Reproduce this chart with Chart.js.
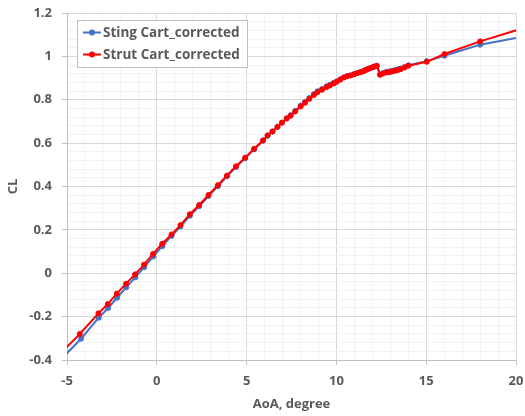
<!DOCTYPE html>
<html>
<head>
<meta charset="utf-8">
<title>CL vs AoA</title>
<script src="https://cdn.jsdelivr.net/npm/chart.js@4"></script>
<style>
  html, body { margin: 0; padding: 0; background: #fff; }
  #wrap { width: 525px; height: 416px; }
</style>
</head>
<body>
<div id="wrap"><canvas id="grafico" width="525" height="416"></canvas></div>
<script>
// Dados (AoA em graus, CL)
const aoaSting = [-5.3, -4.22, -3.23, -2.71, -2.21, -1.70, -1.20, -0.70, -0.20, 0.31, 0.82, 1.32, 1.84, 2.36, 2.88, 3.40,
  3.91, 4.41, 4.92, 5.42, 5.92, 6.17, 6.44, 6.72, 6.97, 7.23, 7.45, 7.71, 8.01, 8.25, 8.49, 8.75, 8.95, 9.20, 9.45,
  9.64, 9.85, 10.02, 10.22, 10.42, 10.60, 10.80, 11.00, 11.17, 11.32, 11.47, 11.60, 11.73, 11.87, 12.02, 12.12, 12.25,
  12.43, 12.60, 12.77, 12.90, 13.04, 13.18, 13.32, 13.45, 13.58, 13.80, 14.01, 15.03, 16.02, 18.00, 22.0];
const clSting = [-0.395, -0.302, -0.205, -0.160, -0.113, -0.065, -0.019, 0.028, 0.077, 0.125, 0.172, 0.215, 0.265,
  0.309, 0.356, 0.401, 0.447, 0.490, 0.530, 0.571, 0.611, 0.634, 0.653, 0.675, 0.695, 0.715, 0.729, 0.749, 0.773,
  0.790, 0.808, 0.826, 0.839, 0.850, 0.862, 0.869, 0.878, 0.885, 0.895, 0.903, 0.909, 0.913, 0.919, 0.923, 0.927,
  0.931, 0.936, 0.941, 0.945, 0.950, 0.953, 0.956, 0.917, 0.923, 0.928, 0.930, 0.932, 0.935, 0.938, 0.941, 0.944,
  0.951, 0.959, 0.978, 1.003, 1.054, 1.116];

const aoaStrut = [-5.3, -4.29, -3.25, -2.73, -2.23, -1.71, -1.21, -0.71, -0.21, 0.30, 0.82, 1.32, 1.84, 2.36, 2.88, 3.40,
  3.91, 4.41, 4.92, 5.42, 5.92, 6.17, 6.44, 6.72, 6.97, 7.23, 7.45, 7.71, 8.01, 8.25, 8.49, 8.75, 8.95, 9.20, 9.45,
  9.64, 9.85, 10.02, 10.22, 10.42, 10.60, 10.80, 11.00, 11.17, 11.32, 11.47, 11.60, 11.73, 11.87, 12.02, 12.12, 12.25,
  12.43, 12.60, 12.77, 12.90, 13.04, 13.18, 13.32, 13.45, 13.58, 13.80, 14.01, 15.03, 16.02, 18.00, 22.0];
const clStrut = [-0.365, -0.280, -0.185, -0.142, -0.094, -0.048, -0.005, 0.040, 0.089, 0.136, 0.179, 0.222, 0.272,
  0.315, 0.361, 0.406, 0.451, 0.493, 0.533, 0.574, 0.613, 0.636, 0.654, 0.675, 0.694, 0.713, 0.726, 0.746, 0.769,
  0.786, 0.804, 0.822, 0.835, 0.846, 0.858, 0.866, 0.875, 0.883, 0.893, 0.903, 0.908, 0.912, 0.918, 0.923, 0.927,
  0.930, 0.936, 0.941, 0.945, 0.950, 0.953, 0.957, 0.915, 0.921, 0.926, 0.927, 0.929, 0.932, 0.935, 0.938, 0.941,
  0.949, 0.957, 0.975, 1.011, 1.069, 1.171];

const nomesSeries = ["Sting Cart_corrected", "Strut Cart_corrected"];
const coresSeries = ["#4472C4", "#FF0000"];

// escalas: passo principal e secundário (estilo Excel)
const xMin = -5, xMax = 20, xMajor = 5, xMinor = 1;
const yMin = -0.4, yMax = 1.2, yMajor = 0.2, yMinor = 0.04;

const corTexto = "#595959";
const fonte = "'Open Sans', 'DejaVu Sans', sans-serif";
const fonteTam = 13;

function pontos(xs, ys) {
    return xs.map((x, i) => ({ x: x, y: ys[i] }));
}

function ehPrincipal(v, passo) {
    const r = Math.round(v / passo);
    return Math.abs(v - r * passo) < 1e-6;
}

// Legenda com caixa dentro da área do gráfico
const legendaCaixa = {
    id: "legendaCaixa",
    afterDraw(chart) {
        const ctx = chart.ctx;
        ctx.save();
        ctx.fillStyle = "#fff";
        ctx.strokeStyle = "#bfbfbf";
        ctx.lineWidth = 1;
        ctx.fillRect(77.5, 20.5, 170, 47);
        ctx.strokeRect(77.5, 20.5, 170, 47);
        ctx.font = "bold 13.5px " + fonte;
        ctx.textBaseline = "middle";
        nomesSeries.forEach((nome, i) => {
            const y = 32.5 + i * 22;
            ctx.strokeStyle = coresSeries[i];
            ctx.lineWidth = 2;
            ctx.beginPath();
            ctx.moveTo(83, y);
            ctx.lineTo(101, y);
            ctx.stroke();
            ctx.fillStyle = coresSeries[i];
            ctx.beginPath();
            ctx.arc(92, y, 3, 0, Math.PI * 2);
            ctx.fill();
            ctx.fillStyle = corTexto;
            ctx.fillText(nome, 103, y + 0.5);
        });
        ctx.restore();
    }
};

const ctx = document.getElementById("grafico").getContext("2d");

new Chart(ctx, {
    type: "scatter",
    data: {
        datasets: [
            {
                label: nomesSeries[0],
                data: pontos(aoaSting, clSting),
                showLine: true,
                borderColor: coresSeries[0],
                backgroundColor: coresSeries[0],
                borderWidth: 2,
                pointRadius: 2.5,
                pointBorderWidth: 1,
                tension: 0,
                order: 2
            },
            {
                label: nomesSeries[1],
                data: pontos(aoaStrut, clStrut),
                showLine: true,
                borderColor: coresSeries[1],
                backgroundColor: coresSeries[1],
                borderWidth: 2,
                pointRadius: 2.5,
                pointBorderWidth: 1,
                tension: 0,
                order: 1
            }
        ]
    },
    options: {
        responsive: false,
        animation: false,
        events: [],
        layout: { padding: { left: 0, right: 9, top: 13, bottom: 0 } },
        plugins: {
            legend: { display: false },
            tooltip: { enabled: false }
        },
        scales: {
            x: {
                type: "linear",
                min: xMin,
                max: xMax,
                afterFit: (scale) => {
                    scale.height = 56;
                    scale.paddingLeft = 0;
                    scale.paddingRight = 0;
                },
                grid: {
                    color: (c) => ehPrincipal(c.tick.value, xMajor) ? "#d9d9d9" : "#f2f2f2",
                    tickColor: (c) => ehPrincipal(c.tick.value, xMajor) ? "#bfbfbf" : "rgba(0,0,0,0)",
                    tickLength: 5
                },
                border: { color: "#bfbfbf" },
                ticks: {
                    stepSize: xMinor,
                    autoSkip: false,
                    maxRotation: 0,
                    padding: 8,
                    color: corTexto,
                    font: { family: fonte, size: fonteTam, weight: "bold" },
                    callback: (v) => ehPrincipal(v, xMajor) ? String(Math.round(v)) : ""
                },
                title: {
                    display: true,
                    text: "AoA, degree",
                    color: corTexto,
                    font: { family: fonte, size: fonteTam, weight: "bold" },
                    padding: { top: 0, bottom: 4 }
                }
            },
            y: {
                type: "linear",
                min: yMin,
                max: yMax,
                afterFit: (scale) => {
                    scale.width = 67;
                    scale.paddingTop = 0;
                    scale.paddingBottom = 0;
                },
                grid: {
                    color: (c) => ehPrincipal(c.tick.value, yMajor) ? "#d9d9d9" : "#f2f2f2",
                    tickColor: (c) => ehPrincipal(c.tick.value, yMajor) ? "#bfbfbf" : "rgba(0,0,0,0)",
                    tickLength: 5
                },
                border: { color: "#bfbfbf" },
                ticks: {
                    stepSize: yMinor,
                    autoSkip: false,
                    padding: 10,
                    color: corTexto,
                    font: { family: fonte, size: fonteTam, weight: "bold" },
                    callback: (v) => ehPrincipal(v, yMajor) ? String(Number((Math.round(v / yMajor) * yMajor).toFixed(1))) : ""
                },
                title: {
                    display: true,
                    text: "CL",
                    color: corTexto,
                    font: { family: fonte, size: fonteTam, weight: "bold" },
                    padding: { top: 5, bottom: 0 }
                }
            }
        }
    },
    plugins: [legendaCaixa]
});
</script>
</body>
</html>
